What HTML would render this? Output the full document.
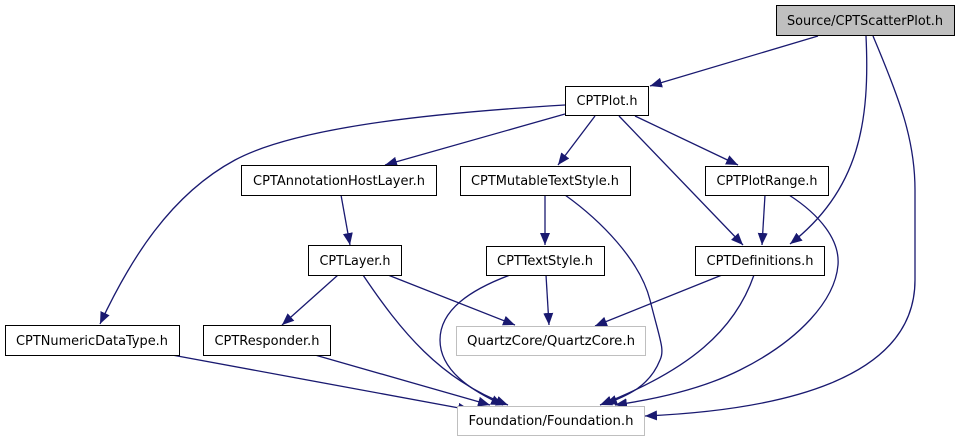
<!DOCTYPE html>
<html><head><meta charset="utf-8"><style>
html,body{margin:0;padding:0;background:#fff;}
svg{display:block;}
text{font-family:"DejaVu Sans","Liberation Sans",sans-serif;font-size:13.5px;fill:#000;}
</style></head><body>
<svg width="960" height="443" viewBox="0 0 960 443" xmlns="http://www.w3.org/2000/svg">
<defs>
<marker id="a" markerWidth="12" markerHeight="10" refX="12" refY="5" orient="auto" markerUnits="userSpaceOnUse">
<path d="M0,0 L12,5 L0,10 Z" fill="#191970"/>
</marker>
</defs>
<g fill="none" stroke="#191970" stroke-width="1.3" marker-end="url(#a)">
<path d="M818,36 L650,86"/>
<path d="M866,36 C870,120 860,190 790,244"/>
<path d="M873,36 C900,100 915,140 915,190 L915,280 C915,380 780,410 645,416"/>
<path d="M565,105 C450,112 300,125 235,160 C170,195 130,260 100,324"/>
<path d="M565,114 L385,165"/>
<path d="M595,116 L558,165"/>
<path d="M619,116 L743,245"/>
<path d="M635,116 L738,165"/>
<path d="M341,195 L350,245"/>
<path d="M545,195 L545,245"/>
<path d="M565,195 C600,220 640,260 650,300 C660,340 665,350 660,360 C650,385 630,395 605,404"/>
<path d="M765,195 L762,245"/>
<path d="M789,195 C820,215 840,240 838,265 C835,300 800,340 740,370 C700,390 650,400 615,405"/>
<path d="M338,275 L282,325"/>
<path d="M363,275 C400,330 440,380 508,405"/>
<path d="M388,275 L515,325"/>
<path d="M510,275 C470,290 440,310 440,340 C440,370 470,390 503,405"/>
<path d="M546,275 L549,325"/>
<path d="M722,275 L595,326"/>
<path d="M754,275 C735,330 690,370 600,405"/>
<path d="M172,355 L470,410"/>
<path d="M315,355 L490,405"/>
</g>
<g stroke-width="1">
<rect x="776.5" y="5.5" width="178" height="30" fill="#bfbfbf" stroke="#000"/>
<rect x="565.5" y="86.5" width="83" height="29" fill="#fff" stroke="#000"/>
<rect x="241.5" y="165.5" width="195" height="30" fill="#fff" stroke="#000"/>
<rect x="460.5" y="166.5" width="170" height="29" fill="#fff" stroke="#000"/>
<rect x="705.5" y="166.5" width="123" height="29" fill="#fff" stroke="#000"/>
<rect x="308.5" y="245.5" width="93" height="30" fill="#fff" stroke="#000"/>
<rect x="486.5" y="246.5" width="118" height="29" fill="#fff" stroke="#000"/>
<rect x="695.5" y="246.5" width="129" height="29" fill="#fff" stroke="#000"/>
<rect x="5.5" y="325.5" width="174" height="30" fill="#fff" stroke="#000"/>
<rect x="203.5" y="325.5" width="127" height="30" fill="#fff" stroke="#000"/>
<rect x="456.5" y="326.5" width="189" height="29" fill="#fff" stroke="#bfbfbf"/>
<rect x="457.5" y="406.5" width="187" height="29" fill="#fff" stroke="#bfbfbf"/>
</g>
<g text-anchor="middle">
<text x="865" y="25" textLength="156" lengthAdjust="spacingAndGlyphs">Source/CPTScatterPlot.h</text>
<text x="607" y="105" textLength="61" lengthAdjust="spacingAndGlyphs">CPTPlot.h</text>
<text x="339" y="185" textLength="172" lengthAdjust="spacingAndGlyphs">CPTAnnotationHostLayer.h</text>
<text x="545" y="185" textLength="148" lengthAdjust="spacingAndGlyphs">CPTMutableTextStyle.h</text>
<text x="767" y="185" textLength="101" lengthAdjust="spacingAndGlyphs">CPTPlotRange.h</text>
<text x="355" y="265" textLength="71" lengthAdjust="spacingAndGlyphs">CPTLayer.h</text>
<text x="545" y="265" textLength="96" lengthAdjust="spacingAndGlyphs">CPTTextStyle.h</text>
<text x="760" y="265" textLength="107" lengthAdjust="spacingAndGlyphs">CPTDefinitions.h</text>
<text x="92" y="345" textLength="152" lengthAdjust="spacingAndGlyphs">CPTNumericDataType.h</text>
<text x="267" y="345" textLength="105" lengthAdjust="spacingAndGlyphs">CPTResponder.h</text>
<text x="551" y="345" textLength="168" lengthAdjust="spacingAndGlyphs">QuartzCore/QuartzCore.h</text>
<text x="551" y="425" textLength="165" lengthAdjust="spacingAndGlyphs">Foundation/Foundation.h</text>
</g>
</svg>
</body></html>
